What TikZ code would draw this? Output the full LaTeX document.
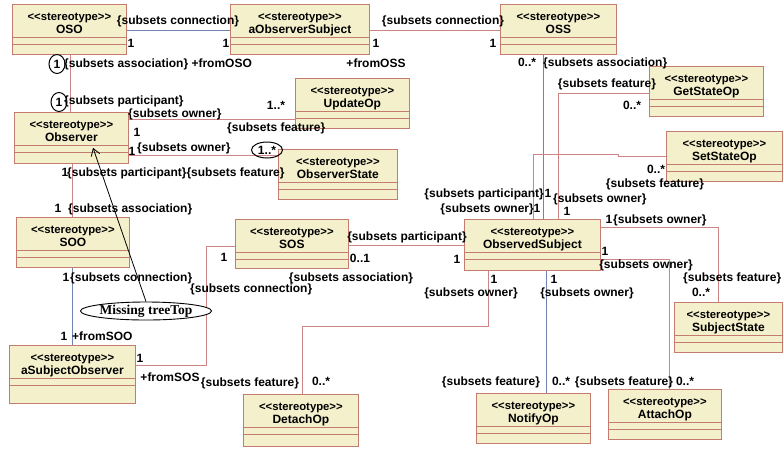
\documentclass[tikz,border=0pt]{standalone}
\usepackage{fontspec}
\setmainfont{Liberation Sans}
\newfontfamily\noteserif{Liberation Serif}
\usetikzlibrary{calc,shapes.geometric,arrows.meta}

\definecolor{boxfill}{RGB}{244,240,204}
\definecolor{boxline}{RGB}{196,124,112}
\definecolor{linkred}{RGB}{206,132,132}
\definecolor{linkblue}{RGB}{112,132,176}

\newcommand\stereo{<\kern0pt<stereotype>\kern0pt>}

\tikzset{
  cls/.style={draw=boxline, fill=boxfill, line width=0.8pt, inner sep=0pt, anchor=north west},
  stereotxt/.style={anchor=base, inner sep=0pt, font=\bfseries\fontsize{11.3}{13}\selectfont},
  clsname/.style={anchor=base, inner sep=0pt, font=\bfseries\fontsize{12}{13}\selectfont},
  comp/.style={draw=boxline, line width=0.7pt},
  lbl/.style={inner sep=0pt, text height=8.7pt, text depth=0pt, font=\bfseries\fontsize{12}{13}\selectfont},
  circ/.style={lbl, draw, ellipse, line width=1pt, minimum width=16pt, minimum height=19pt},
  rl/.style={draw=linkred, line width=0.8pt},
  bl/.style={draw=linkblue, line width=0.8pt},
}

% class box: name, x, y (top left), width, height, class name
\newcommand\umlclass[6]{%
  \node[cls, minimum width=#4pt, minimum height=#5pt] (#1) at (#2,#3) {};
  \node[stereotxt] (#1-st) at ($(#1.north)+(0,16.5)$) {\stereo};
  \node[clsname] (#1-nm) at ($(#1.north)+(0,29.5)$) {#6};
  \draw[comp] ($(#1.north west)+(0,33)$) -- ($(#1.north east)+(0,33)$);
  \draw[comp] ($(#1.north west)+(0,40)$) -- ($(#1.north east)+(0,40)$);
}

\begin{document}
\begin{tikzpicture}[x=1pt, y=-1pt]
\useasboundingbox (0,0) rectangle (783,448);
\fill[white] (0,0) rectangle (783,448);

% classes
\umlclass{OSO}{12}{4}{114}{50}{OSO}
\umlclass{aOS}{230}{4}{139}{50}{aObserverSubject}
\umlclass{OSS}{500}{4}{116}{50}{OSS}
\umlclass{GetStateOp}{649}{66}{114}{50}{GetStateOp}
\umlclass{UpdateOp}{295}{78}{114}{50}{UpdateOp}
\umlclass{Observer}{14}{112}{114}{51}{Observer}
\umlclass{ObserverState}{278}{149}{119}{50}{ObserverState}
\umlclass{SetStateOp}{666}{131}{116}{50}{SetStateOp}
\umlclass{SOO}{16}{217}{113}{50}{SOO}
\umlclass{SOS}{235}{219}{113}{49}{SOS}
\umlclass{ObservedSubject}{464}{219}{136}{51}{ObservedSubject}
\umlclass{SubjectState}{674}{302}{108}{50}{SubjectState}
\umlclass{aSO}{9}{345}{126}{58}{aSubjectObserver}
\umlclass{DetachOp}{243}{394}{115}{52}{DetachOp}
\umlclass{NotifyOp}{476}{393}{114}{50}{NotifyOp}
\umlclass{AttachOp}{608}{389}{113}{50}{AttachOp}

% connectors
\draw[bl] ($(OSO.north east)+(0,26)$) -- ($(aOS.north west)+(0,26)$);
\draw[rl] ($(aOS.north east)+(0,26)$) -- ($(OSS.north west)+(0,26)$);
\draw[rl] ($(OSO.south west)+(58,0)$) -- ($(Observer.north west)+(56,0)$);
\draw[bl] ($(OSS.south west)+(43,0)$) -- ($(ObservedSubject.north west)+(79,0)$);
\draw[rl] ($(SetStateOp.north west)+(0,25)$) -- ++(-48,0) -- ++(0,-2) -| ($(ObservedSubject.north west)+(69,0)$);
\draw[rl] ($(GetStateOp.north west)+(0,27)$) -| ($(ObservedSubject.north west)+(94,0)$);
\draw[rl] ($(ObservedSubject.north east)+(0,8)$) -| ($(SubjectState.north west)+(44,0)$);
\draw[rl] ($(ObservedSubject.north east)+(0,40)$) -| ($(AttachOp.north west)+(61,0)$);
\draw[bl] ($(ObservedSubject.south west)+(82,0)$) -- ($(NotifyOp.north west)+(70,0)$);
\draw[rl] ($(ObservedSubject.south west)+(24,0)$) -- ++(0,56) -| ($(DetachOp.north west)+(59,0)$);
\draw[rl] ($(SOS.north east)+(0,26)$) -- ($(ObservedSubject.north west)+(0,26)$);
\draw[rl] ($(SOS.north west)+(0,27)$) -- ++(-29,0) |- ($(aSO.north east)+(0,20)$);
\draw[rl] ($(Observer.south west)+(58,0)$) -- ($(SOO.north west)+(56,0)$);
\draw[bl] ($(SOO.south west)+(56,0)$) -- ($(aSO.north west)+(63,0)$);
\draw[rl] ($(Observer.north east)+(0,7)$) -- ($(UpdateOp.north west)+(0,41)$);
\draw[rl] ($(Observer.north east)+(0,43)$) -- ($(ObserverState.north west)+(0,6)$);

% association end labels
\node[lbl] (l1) at (178,20) {\{subsets connection\}};
\node[lbl] (l2) at (131,43) {1};
\node[lbl] (l3) at (226,43) {1};
\node[lbl] (l4) at (443,20) {\{subsets connection\}};
\node[lbl] (l5) at (376,43) {1};
\node[lbl] (l6) at (493,43) {1};
\node[lbl] (l7) at (376,63) {+fromOSS};
\node[circ] (c1) at (57,64) {1};
\node[lbl, anchor=west] (l8) at (64,63) {\{subsets association\} +fromOSO};
\node[circ] (c2) at (59,102) {1};
\node[lbl, anchor=west] (l9) at (64,100) {\{subsets participant\}};
\node[lbl] (l10) at (527,62) {0..*};
\node[lbl, anchor=west] (l11) at (543,62) {\{subsets association\}};
\node[lbl] (l12) at (607,83) {\{subsets feature\}};
\node[lbl] (l13) at (632,105) {0..*};
\node[lbl] (l14) at (656,169) {0..*};
\node[lbl] (l15) at (655,183) {\{subsets feature\}};
\node[lbl, anchor=east] (l16) at (544,193) {\{subsets participant\}};
\node[lbl] (l17) at (548,193) {1};
\node[lbl, anchor=east] (l18) at (534,208) {\{subsets owner\}};
\node[lbl] (l19) at (537,208) {1};
\node[lbl, anchor=west] (l20) at (553,198) {\{subsets owner\}};
\node[lbl] (l21) at (567,211) {1};
\node[lbl] (l22) at (609,219) {1};
\node[lbl, anchor=west] (l23) at (613,219) {\{subsets owner\}};
\node[lbl, anchor=west] (l24) at (683,277) {\{subsets feature\}};
\node[lbl] (l25) at (701,292) {0..*};
\node[lbl] (l26) at (605,251) {1};
\node[lbl] (l27) at (646,264) {\{subsets owner\}};
\node[lbl] (l28) at (494,279) {1};
\node[lbl] (l29) at (471,292) {\{subsets owner\}};
\node[lbl] (l30) at (554,279) {1};
\node[lbl] (l31) at (587,292) {\{subsets owner\}};
\node[lbl] (l32) at (491,381) {\{subsets feature\}};
\node[lbl] (l33) at (561,381) {0..*};
\node[lbl] (l34) at (624,381) {\{subsets feature\}};
\node[lbl] (l35) at (685,381) {0..*};
\node[lbl] (l36) at (250,382) {\{subsets feature\}};
\node[lbl] (l37) at (321,381) {0..*};
\node[lbl] (l38) at (407,236) {\{subsets participant\}};
\node[lbl] (l39) at (360,258) {0..1};
\node[lbl] (l40) at (457,259) {1};
\node[lbl] (l41) at (351,277) {\{subsets association\}};
\node[lbl] (l42) at (224,257) {1};
\node[lbl, anchor=west] (l43) at (190,288) {\{subsets connection\}};
\node[lbl] (l44) at (140,358) {1};
\node[lbl] (l45) at (170,377) {+fromSOS};
\node[lbl] (l46) at (65,172) {1};
\node[lbl, anchor=west] (l47) at (67,172) {\{subsets participant\}\{subsets feature\}};
\node[lbl] (l48) at (58,208) {1};
\node[lbl, anchor=west] (l49) at (68,208) {\{subsets association\}};
\node[lbl] (l50) at (66,277) {1};
\node[lbl, anchor=west] (l51) at (70,277) {\{subsets connection\}};
\node[lbl] (l52) at (64,336) {1};
\node[lbl, anchor=west] (l53) at (72,336) {+fromSOO};
\node[lbl, anchor=west] (l54) at (128,113) {\{subsets owner\}};
\node[lbl] (l55) at (137,132) {1};
\node[lbl, anchor=west] (l56) at (227,127) {\{subsets feature\}};
\node[lbl] (l57) at (276,105) {1..*};
\node[lbl, anchor=west] (l58) at (137,147) {\{subsets owner\}};
\node[lbl] (l59) at (132,151) {1};
\node[circ, minimum width=31pt, minimum height=16pt] (c3) at (267,150) {1..*};

% annotation
\node[draw, ellipse, line width=0.9pt, fill=white, minimum width=108pt, minimum height=18pt, inner sep=0pt,
      font=\noteserif\bfseries\fontsize{13.5}{14}\selectfont] (mt) at (146,311) {Missing treeTop};
\draw[line width=0.8pt, -{Straight Barb[length=7pt, width=9pt]}] (mt.north) -- ($(Observer.south west)+(79,-16)$);
\end{tikzpicture}
\end{document}
